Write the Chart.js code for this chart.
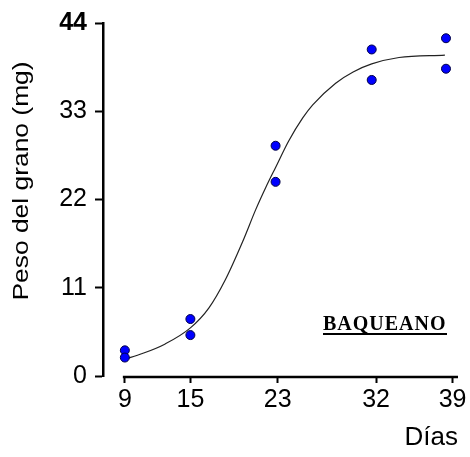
<!DOCTYPE html>
<html>
<head>
<meta charset="utf-8">
<title>Peso del grano - Baqueano</title>
<script src="https://cdn.jsdelivr.net/npm/chart.js@4.4.1/dist/chart.umd.min.js"></script>
<style>
    body { margin: 0; background: #fff; }
    #wrap { width: 470px; height: 457px; }
</style>
</head>
<body>
<div id="wrap"><canvas id="grainChart" width="470" height="457"></canvas></div>
<script>
// observed grain weight (mg) by day
const obsDays = [9, 9, 15, 15, 22.8, 22.8, 31.6, 31.6, 38.4, 38.4];
const obsWeight = [3.2, 2.3, 7.1, 5.1, 28.7, 24.2, 40.7, 36.9, 42.1, 38.3];

// fitted curve
const curveDays = [9, 10.6, 12.7, 15, 16.7, 18.2, 19.8, 21.0, 21.9, 22.8, 24.0, 25.3, 26.2, 28.3, 29.9, 31.6, 34.1, 38.3];
const curveWeight = [2.1, 2.8, 4.0, 6.0, 8.5, 12.0, 16.8, 20.8, 23.5, 26.0, 29.3, 32.2, 33.8, 36.5, 37.9, 38.9, 39.7, 40.0];

// axis ticks
const dayTicks = [9, 15, 23, 32, 39];
const weightTicks = [0, 11, 22, 33, 44];

const FONT = "'Liberation Sans', Arial, sans-serif";

const toXY = (xs, ys) => xs.map((x, i) => ({ x: x, y: ys[i] }));

// draws the detached x axis line, the y title and the cultivar label
const extrasPlugin = {
    id: 'extras',
    afterDraw(chart) {
        const { ctx, chartArea, scales } = chart;
        ctx.save();

        // x axis line starts at the first tick, not at the y axis
        ctx.strokeStyle = '#000';
        ctx.lineWidth = 2.5;
        ctx.beginPath();
        ctx.moveTo(scales.x.getPixelForValue(dayTicks[0]) - 2, chartArea.bottom + 1);
        ctx.lineTo(chartArea.right, chartArea.bottom + 1);
        ctx.stroke();

        // y title
        ctx.save();
        ctx.translate(28, 181);
        ctx.rotate(-Math.PI / 2);
        ctx.scale(1.2, 1);
        ctx.fillStyle = '#000';
        ctx.font = '22px ' + FONT;
        ctx.textAlign = 'center';
        ctx.textBaseline = 'alphabetic';
        ctx.fillText('Peso del grano (mg)', 0, 0);
        ctx.restore();

        // cultivar label
        const lx = chartArea.right - 135;
        ctx.fillStyle = '#000';
        ctx.font = "bold 20px 'Liberation Serif', 'Times New Roman', serif";
        ctx.textAlign = 'left';
        ctx.textBaseline = 'alphabetic';
        if ('letterSpacing' in ctx) ctx.letterSpacing = '1px';
        ctx.fillText('BAQUEANO', lx, 330);
        ctx.lineWidth = 2;
        ctx.beginPath();
        ctx.moveTo(lx, 334);
        ctx.lineTo(lx + 124, 334);
        ctx.stroke();

        ctx.restore();
    }
};

const chart = new Chart(document.getElementById('grainChart').getContext('2d'), {
    type: 'scatter',
    data: {
        datasets: [
            {
                label: 'Ajuste',
                data: toXY(curveDays, curveWeight),
                showLine: true,
                borderColor: '#222',
                borderWidth: 1.2,
                pointRadius: 0,
                cubicInterpolationMode: 'monotone',
                fill: false,
                order: 2
            },
            {
                label: 'Observado',
                data: toXY(obsDays, obsWeight),
                backgroundColor: '#0000ff',
                borderColor: '#000044',
                borderWidth: 1,
                pointRadius: 4.5,
                order: 1
            }
        ]
    },
    options: {
        responsive: false,
        animation: false,
        devicePixelRatio: 1,
        layout: { padding: { top: 22, right: 12, bottom: 0, left: 0 } },
        plugins: {
            legend: { display: false },
            tooltip: { enabled: false }
        },
        scales: {
            x: {
                type: 'linear',
                min: 7,
                max: 39.5,
                afterBuildTicks: s => { s.ticks = dayTicks.map(v => ({ value: v })); },
                afterFit: s => { s.height = 81; },
                grid: {
                    drawOnChartArea: false,
                    drawTicks: true,
                    tickLength: 7,
                    tickWidth: 2,
                    color: '#000'
                },
                border: { display: false },
                ticks: {
                    color: '#000',
                    font: { family: FONT, size: 25 },
                    padding: 2,
                    maxRotation: 0,
                    autoSkip: false
                },
                title: {
                    display: true,
                    text: 'Días',
                    align: 'end',
                    color: '#000',
                    font: { family: FONT, size: 26 },
                    padding: { top: 0, bottom: 4 }
                }
            },
            y: {
                min: 0,
                max: 44,
                afterBuildTicks: s => { s.ticks = weightTicks.map(v => ({ value: v })); },
                afterFit: s => { s.width = 103; },
                grid: {
                    drawOnChartArea: false,
                    drawTicks: true,
                    tickLength: 8,
                    tickWidth: 2,
                    color: '#000'
                },
                border: { display: true, color: '#000', width: 2.5 },
                ticks: {
                    color: '#000',
                    padding: 8,
                    font: ctx => ({
                        family: FONT,
                        size: 25,
                        weight: ctx.tick && ctx.tick.value === 44 ? 'bold' : 'normal'
                    })
                },
                title: { display: false }
            }
        }
    },
    plugins: [extrasPlugin]
});
</script>
</body>
</html>
